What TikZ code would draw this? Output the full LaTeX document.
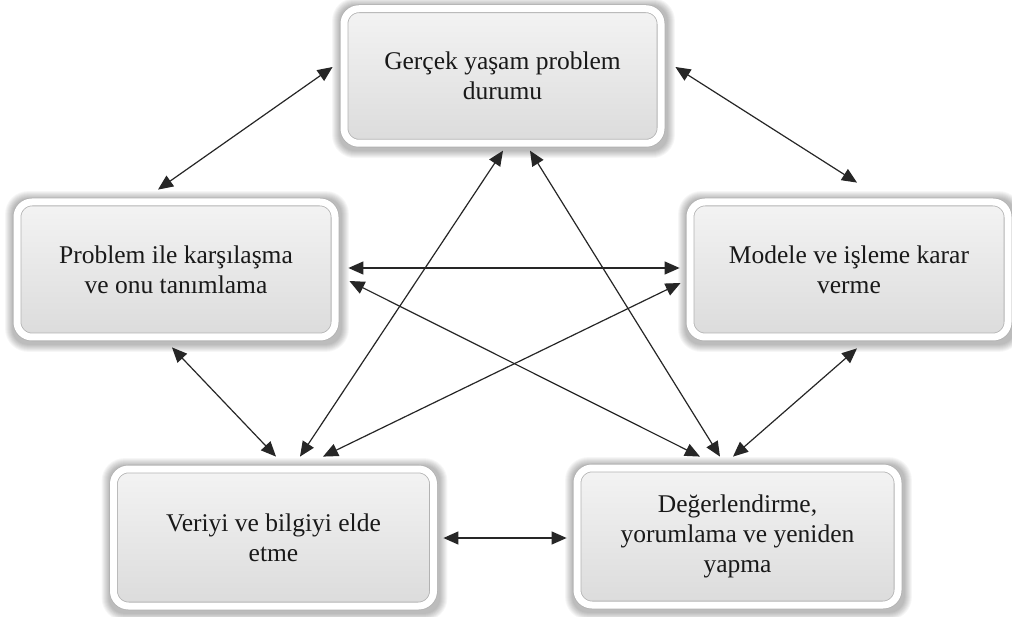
\documentclass[tikz,border=0pt]{standalone}
\usepackage{fontspec}
\setmainfont{Liberation Serif}
\usetikzlibrary{arrows.meta,backgrounds,calc}

\tikzset{
  card/.style={rounded corners=15pt, draw=gray!60, line width=0.8pt,
    double=white, double distance=7pt,
    top color=gray!9, middle color=gray!13, bottom color=gray!28,
    align=center, font=\fontsize{25.5}{30}\selectfont, text=black!90,
    inner sep=0pt},
  link/.style={{Triangle[length=15pt,width=13pt]}-{Triangle[length=15pt,width=13pt]},
    line width=1.2pt, black!85},
}

% soft drop shadow behind a card
\newcommand{\cardshadow}[1]{%
  \begin{scope}[on background layer]
    \foreach \s in {1,...,8}{
      \fill[black, opacity=0.035, rounded corners={15+\s}]
        ([shift={({-3.5-\s},{-2.5-\s})}]#1.north west) rectangle
        ([shift={({5.5+\s},{6.5+\s})}]#1.south east);
    }
  \end{scope}}

\begin{document}
\begin{tikzpicture}[x=1pt,y=-1pt]
  \useasboundingbox (0,0) rectangle (1012,617);
  \begin{scope}[on background layer]
    \fill[white] (0,0) rectangle (1012,617);
  \end{scope}

  % cards
  \node[card, minimum width=317pt, minimum height=134.5pt] (top) at (502.5,76)
    {Gerçek yaşam problem\\durumu};
  \node[card, minimum width=318pt, minimum height=135pt] (left) at (176,269.5)
    {Problem ile karşılaşma\\ve onu tanımlama};
  \node[card, minimum width=318pt, minimum height=135pt] (right) at (849,269.5)
    {Modele ve işleme karar\\verme};
  \node[card, minimum width=320pt, minimum height=137pt] (bl) at (273.5,537.5)
    {Veriyi ve bilgiyi elde\\etme};
  \node[card, minimum width=321pt, minimum height=137pt] (br) at (737.5,536.5)
    {Değerlendirme,\\yorumlama ve yeniden\\yapma};

  \cardshadow{top}
  \cardshadow{left}
  \cardshadow{right}
  \cardshadow{bl}
  \cardshadow{br}

  % connections
  \draw[link] ($(top.west)+(-11,-9)$) -- ($(left.north)+(-18,-12)$);
  \draw[link] ($(top.east)+(14,-9)$) -- ($(right.north)+(8,-19)$);
  \draw[link] ($(left.east)+(13,-1.5)$) -- ($(right.west)+(-10,-1.5)$);
  \draw[link] ($(left.south)+(-4,10)$) -- ($(bl.north)+(2.5,-12)$);
  \draw[link] ($(right.south)+(8,11)$) -- ($(br.north)+(-4.5,-11)$);
  \draw[link] ($(bl.east)+(9.5,0.5)$) -- ($(br.west)+(-10,1.5)$);
  \draw[link] ($(top.south)+(0.5,7)$) -- ($(bl.north)+(26.5,-12)$);
  \draw[link] ($(top.south)+(27.5,7)$) -- ($(br.north)+(-17.5,-11)$);
  \draw[link] ($(left.east)+(14,11.5)$) -- ($(br.north)+(-37.5,-11)$);
  \draw[link] ($(right.west)+(-9,13.5)$) -- ($(bl.north)+(49.5,-12)$);
\end{tikzpicture}
\end{document}
